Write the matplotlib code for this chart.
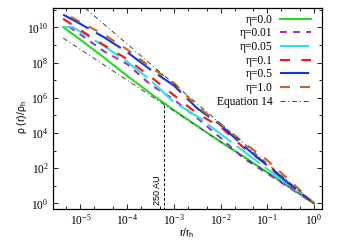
"""Density profiles rho(r)/rho_h for several eta values, log-log."""

import matplotlib
matplotlib.use("Agg")
import matplotlib.pyplot as plt
import numpy as np
from matplotlib.ticker import FixedLocator, FuncFormatter, LogLocator, NullFormatter

# log10(r/r_h) and log10(rho/rho_h)
lr_grid = [-5.37, -5.0, -4.5, -4.0, -3.5, -3.0, -2.5, -2.0, -1.5, -1.0, -0.5, 0.0]

lrho_eta00 = [10.02, 9.30, 8.30, 7.25, 6.25, 5.30, 4.40, 3.50, 2.65, 1.76, 0.88, 0.0]
lrho_eta05 = [10.02, 9.75, 8.95, 8.05, 7.00, 5.75, 4.95, 3.95, 2.95, 1.95, 0.95, 0.0]
lrho_eta10 = [10.49, 9.85, 9.00, 8.20, 7.20, 6.15, 5.10, 4.35, 3.15, 2.20, 1.05, 0.0]
lrho_eta50 = [10.73, 10.20, 9.45, 8.60, 7.60, 6.70, 5.40, 4.45, 3.25, 2.15, 1.05, 0.0]

# cyan has a short flat start
lr_eta05 = [-5.37, -5.16, -5.0, -4.5, -4.0, -3.5, -3.0, -2.5, -2.0, -1.5, -1.0, -0.5, 0.0]
lrho_eta05 = [10.02, 10.02] + lrho_eta05[1:]

lr_eta01 = [-5.25, -5.0, -4.5, -4.0, -3.5, -3.0, -2.5, -2.0, -1.5, -1.0, -0.5, 0.0]
lrho_eta01 = [10.05, 9.60, 8.65, 7.92, 6.75, 5.90, 4.85, 3.72, 2.55, 1.70, 0.85, 0.0]

lr_eta100 = [-5.2, -5.0, -4.5, -4.0, -3.5, -3.0, -2.5, -2.0, -1.5, -1.0, -0.5, 0.0]
lrho_eta100 = [10.60, 10.30, 9.60, 8.75, 7.75, 6.85, 5.50, 4.50, 3.45, 2.45, 1.25, 0.0]

# Equation 14 bounds (two straight lines in log-log)
lr_eq14_upper = [-4.9, 0.0]
lrho_eq14_upper = [11.1, 0.0]
lr_eq14_lower = [-5.37, 0.0]
lrho_eq14_lower = [9.40, 0.0]

r_250au = 6.2e-4
rho_250au_top = 10 ** 5.65

plt.rcParams["font.family"] = ["Liberation Serif", "DejaVu Serif"]
plt.rcParams["mathtext.fontset"] = "custom"
plt.rcParams["mathtext.rm"] = "Liberation Serif"
plt.rcParams["mathtext.sf"] = "Liberation Sans"

SANS = ["Liberation Sans", "DejaVu Sans"]


def p10(vals):
    return 10.0 ** np.asarray(vals, dtype=float)


fig = plt.figure(figsize=(3.5, 2.45), dpi=100)
ax = fig.add_axes([0.151, 0.146, 0.769, 0.821])

lw = 1.5
ax.plot(p10(lr_grid), p10(lrho_eta00), color="#22dd22", lw=lw, label="η=0.0")
ax.plot(p10(lr_eta01), p10(lrho_eta01), color="#9933dd", lw=lw, dashes=(3.3, 3.0), label="η=0.01")
ax.plot(p10(lr_eta05), p10(lrho_eta05), color="#33e0e0", lw=lw, dashes=(14, 3), label="η=0.05")
ax.plot(p10(lr_grid), p10(lrho_eta10), color="#ff1111", lw=lw, dashes=(4.8, 5.5), label="η=0.1")
ax.plot(p10(lr_grid), p10(lrho_eta50), color="#1133ee", lw=lw, dashes=(14, 4), label="η=0.5")
ax.plot(p10(lr_eta100), p10(lrho_eta100), color="#c8641e", lw=lw, dashes=(4.8, 4.8), label="η=1.0")
ax.plot(p10(lr_eq14_upper), p10(lrho_eq14_upper), color="#444444", lw=0.7,
        dashes=(5, 3, 1, 3), label="Equation 14")
ax.plot(p10(lr_eq14_lower), p10(lrho_eq14_lower), color="#444444", lw=0.7,
        dashes=(5, 3, 1, 3))

ax.plot([r_250au, r_250au], [10 ** -0.4, rho_250au_top], color="black", lw=0.7, dashes=(3, 2))
ax.text(10 ** -3.36, 10 ** 0.77, "250 AU", rotation=90, ha="center", va="center",
        fontsize=6.5, family=SANS)

ax.set_xscale("log")
ax.set_yscale("log")
ax.set_xlim(10 ** -5.59, 10 ** 0.17)
ax.set_ylim(10 ** -0.33, 10 ** 11.1)

ax.yaxis.set_major_locator(FixedLocator(p10([0, 2, 4, 6, 8, 10])))
ax.yaxis.set_minor_locator(FixedLocator(p10([1, 3, 5, 7, 9, 11])))
ax.xaxis.set_major_locator(FixedLocator(p10([-5, -4, -3, -2, -1, 0])))
ax.xaxis.set_minor_locator(LogLocator(base=10, subs=(2, 5), numticks=20))
fmt = FuncFormatter(lambda v, _: r"$\mathdefault{10^{%d}}$" % round(np.log10(v)))
ax.xaxis.set_major_formatter(fmt)
ax.yaxis.set_major_formatter(fmt)
ax.xaxis.set_minor_formatter(NullFormatter())
ax.yaxis.set_minor_formatter(NullFormatter())

ax.tick_params(which="both", direction="in", top=True, right=True, labelsize=8.3, width=0.6)
ax.tick_params(which="major", length=3.5, pad=3)
ax.tick_params(which="minor", length=2)
for spine in ax.spines.values():
    spine.set_linewidth(0.9)

fig.text(0.063, 1 - 117 / 245, r"ρ (r)/ρ$_\mathsf{h}$", rotation=90, ha="center", va="center",
         fontsize=7.5, family=SANS)
fig.text(187 / 350, 1 - 233 / 245, r"r/r$_\mathsf{h}$", ha="center", va="center",
         fontsize=7.5, family=SANS)

ax.legend(loc="upper right", bbox_to_anchor=(0.972, 0.99), frameon=False,
          markerfirst=False, fontsize=8.3, handlelength=2.7, handletextpad=0.6,
          labelspacing=0.15, borderaxespad=0.0, borderpad=0.3)

fig.savefig("out.png", dpi=100)
